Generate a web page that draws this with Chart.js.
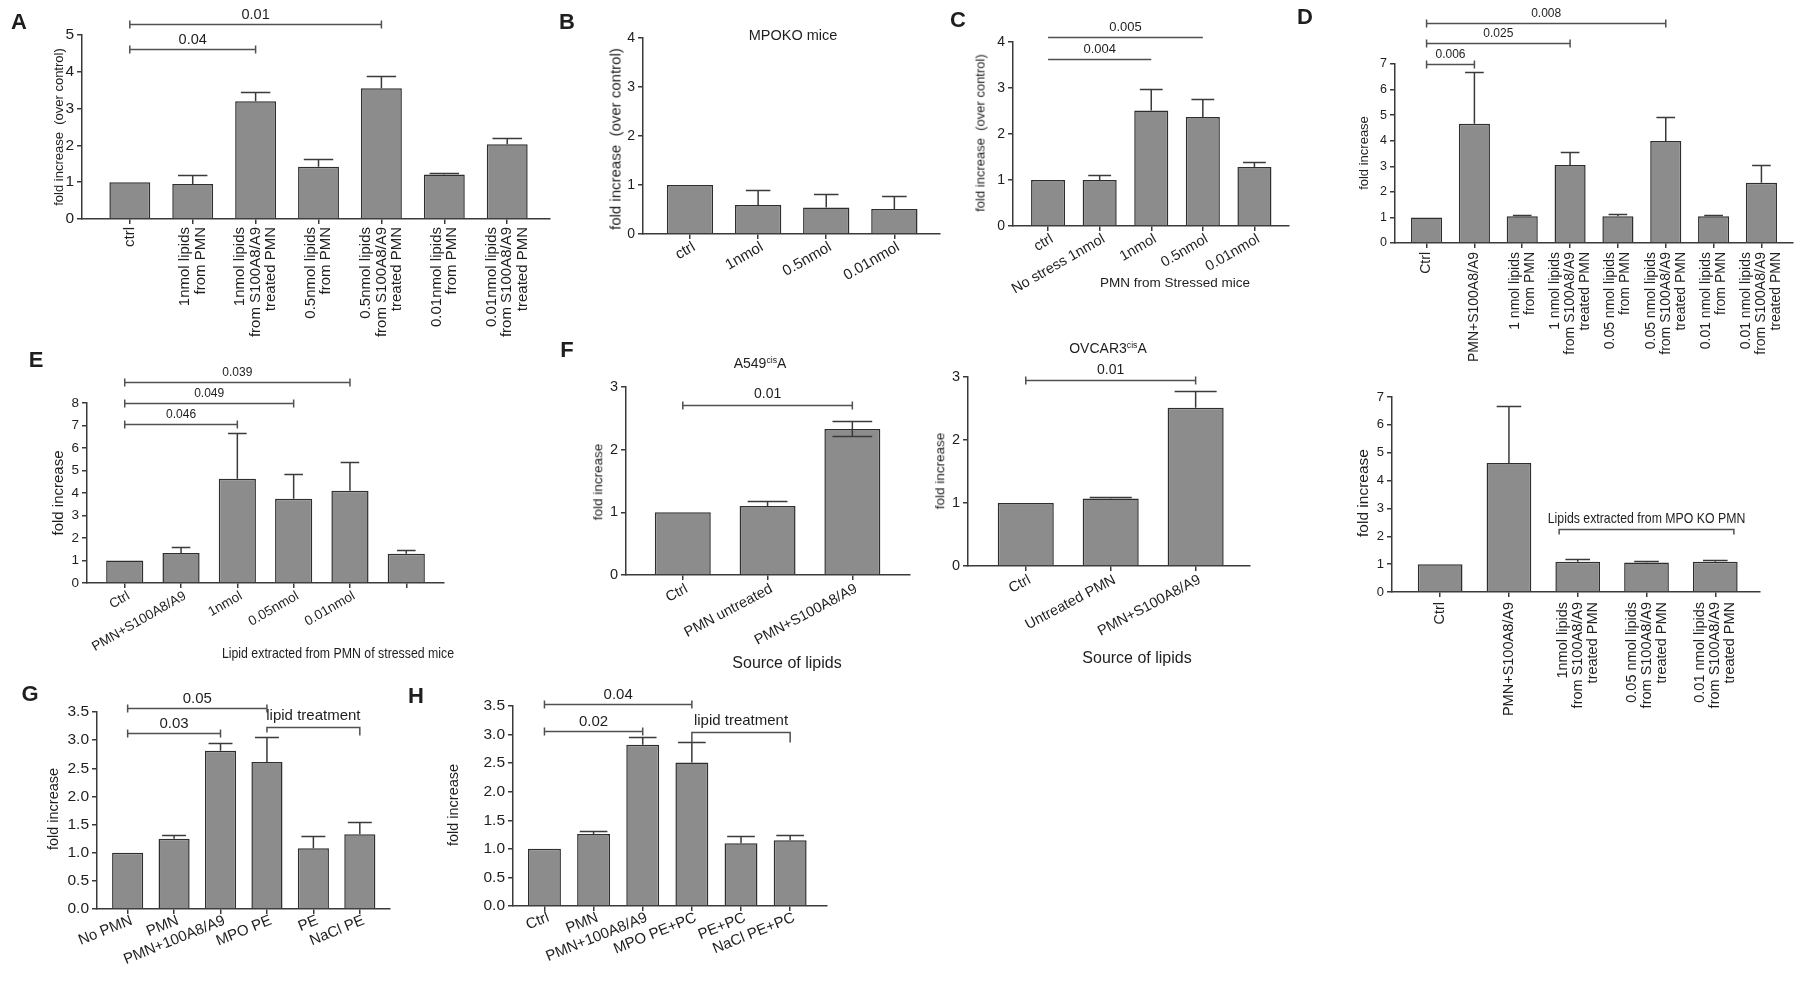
<!DOCTYPE html>
<html><head><meta charset="utf-8">
<script src="https://cdn.jsdelivr.net/npm/chart.js@4.4.1/dist/chart.umd.min.js"></script>
<style>
html,body{margin:0;padding:0;background:#fff;}
#page{position:relative;width:1800px;height:986px;overflow:hidden;background:#fff;font-family:"Liberation Sans",Arial,Helvetica,sans-serif;color:#1e1e1e;}
#page canvas{position:absolute;left:0;top:0;}
.t{position:absolute;white-space:pre;line-height:1;}
.t sup{font-size:0.62em;vertical-align:0.55em;line-height:0;}
</style></head><body><div id="page"></div>
<script>
// ---------------- DATA ----------------
// Panel A
const aCategories = [["ctrl"],["1nmol lipids","from PMN"],["1nmol lipids","from S100A8/A9","treated PMN"],["0.5nmol lipids","from PMN"],["0.5nmol lipids","from S100A8/A9","treated PMN"],["0.01nmol lipids","from PMN"],["0.01nmol lipids","from S100A8/A9","treated PMN"]];
const aMeans = [1.0, 0.95, 3.2, 1.42, 3.55, 1.21, 2.03];
const aErrTop = [null, 1.19, 3.45, 1.62, 3.88, 1.24, 2.2];
const aYTicks = ["0","1","2","3","4","5"];
const aSigPairs = [[0,2],[0,4]];
const aSigLabels = ["0.04","0.01"];
// Panel B
const bCategories = ["ctrl","1nmol","0.5nmol","0.01nmol"];
const bMeans = [1.0, 0.59, 0.54, 0.51];
const bErrTop = [null, 0.9, 0.82, 0.78];
const bYTicks = ["0","1","2","3","4"];
// Panel C
const cCategories = ["ctrl","No stress 1nmol","1nmol","0.5nmol","0.01nmol"];
const cMeans = [1.0, 1.0, 2.51, 2.37, 1.28];
const cErrTop = [null, 1.1, 2.97, 2.77, 1.39];
const cYTicks = ["0","1","2","3","4"];
const cSigPairs = [[0,2],[0,3]];
const cSigLabels = ["0.004","0.005"];
// Panel D (top)
const dCategories = [["Ctrl"],["PMN+S100A8/A9"],["1 nmol lipids","from PMN"],["1 nmol lipids","from S100A8/A9","treated PMN"],["0.05 nmol lipids","from PMN"],["0.05 nmol lipids","from S100A8/A9","treated PMN"],["0.01 nmol lipids","from PMN"],["0.01 nmol lipids","from S100A8/A9","treated PMN"]];
const dMeans = [1.0, 4.66, 1.05, 3.05, 1.05, 3.99, 1.05, 2.36];
const dErrTop = [null, 6.69, 1.1, 3.55, 1.14, 4.91, 1.11, 3.04];
const dYTicks = ["0","1","2","3","4","5","6","7"];
const dSigPairs = [[0,1],[0,3],[0,5]];
const dSigLabels = ["0.006","0.025","0.008"];
// Panel D (bottom)
const d2Categories = [["Ctrl"],["PMN+S100A8/A9"],["1nmol lipids","from S100A8/A9","treated PMN"],["0.05 nmol lipids","from S100A8/A9","treated PMN"],["0.01 nmol lipids","from S100A8/A9","treated PMN"]];
const d2Means = [1.0, 4.63, 1.09, 1.06, 1.09];
const d2ErrTop = [null, 6.67, 1.2, 1.13, 1.15];
const d2YTicks = ["0","1","2","3","4","5","6","7"];
const d2GroupPair = [2,4];
const d2GroupLabel = "Lipids extracted from MPO KO PMN";
// Panel E
const eCategories = ["Ctrl","PMN+S100A8/A9","1nmol","0.05nmol","0.01nmol",""];
const eMeans = [1.0, 1.33, 4.63, 3.75, 4.1, 1.3];
const eErrTop = [null, 1.62, 6.67, 4.84, 5.4, 1.46];
const eYTicks = ["0","1","2","3","4","5","6","7","8"];
const eSigPairs = [[0,2],[0,3],[0,4]];
const eSigLabels = ["0.046","0.049","0.039"];
// Panel F (A549cisA)
const f1Categories = ["Ctrl","PMN untreated","PMN+S100A8/A9"];
const f1Means = [1.0, 1.1, 2.33];
const f1ErrTop = [null, 1.18, 2.45];
const f1ErrBottom = [null, null, 2.22];
const f1YTicks = ["0","1","2","3"];
const f1SigPairs = [[0,2]];
const f1SigLabels = ["0.01"];
// Panel F (OVCAR3cisA)
const f2Categories = ["Ctrl","Untreated PMN","PMN+S100A8/A9"];
const f2Means = [1.0, 1.07, 2.51];
const f2ErrTop = [null, 1.09, 2.77];
const f2YTicks = ["0","1","2","3"];
const f2SigPairs = [[0,2]];
const f2SigLabels = ["0.01"];
// Panel G
const gCategories = ["No PMN","PMN","PMN+100A8/A9","MPO PE","PE","NaCl PE"];
const gMeans = [1.0, 1.25, 2.81, 2.61, 1.08, 1.33];
const gErrTop = [null, 1.31, 2.95, 3.05, 1.29, 1.55];
const gYTicks = ["0.0","0.5","1.0","1.5","2.0","2.5","3.0","3.5"];
const gSigPairs = [[0,2],[0,3]];
const gSigLabels = ["0.03","0.05"];
const gGroupPair = [3,5];
const gGroupLabel = "lipid treatment";
// Panel H
const hCategories = ["Ctrl","PMN","PMN+100A8/A9","MPO PE+PC","PE+PC","NaCl PE+PC"];
const hMeans = [1.0, 1.26, 2.82, 2.51, 1.1, 1.15];
const hErrTop = [null, 1.31, 2.96, 2.87, 1.23, 1.25];
const hYTicks = ["0.0","0.5","1.0","1.5","2.0","2.5","3.0","3.5"];
const hSigPairs = [[0,2],[0,3]];
const hSigLabels = ["0.02","0.04"];
const hGroupPair = [3,5];
const hGroupLabel = "lipid treatment";

// ---------------- STYLE / LAYOUT ----------------
const W = 1800, H = 986;
const FONT = '"Liberation Sans", Arial, Helvetica, sans-serif';
const BAR_FILL = '#8c8c8c', BAR_EDGE = '#2e2e2e', AXIS = '#3a3a3a', TXT = '#1e1e1e', ERR = '#3a3a3a', BRK = '#505050';

const panels = [
 {categories:aCategories, means:aMeans, errTop:aErrTop, yTicks:aYTicks, sigPairs:aSigPairs, sigLabels:aSigLabels,
  L:{x0:82,x1:550,yTop:35,y0:219,a:0.76,b:0.68,barPct:0.65,cap:0.72,tickFont:15.5,labelFont:15,labelMode:'vertical',labelGap:8,lineH:15.5,
     sigY:[4.62,5.3],sigCap:4,sigFont:14.5,sigGap:10}},
 {categories:bCategories, means:bMeans, errTop:bErrTop, yTicks:bYTicks,
  L:{x0:643,x1:940,yTop:38,y0:234,a:0.69,b:0.67,barPct:0.68,cap:0.53,tickFont:14,labelFont:15,labelMode:'rot',rot:30,dx:4,dy:12}},
 {categories:cCategories, means:cMeans, errTop:cErrTop, yTicks:cYTicks, sigPairs:cSigPairs, sigLabels:cSigLabels,
  L:{x0:1013,x1:1289,yTop:42,y0:226,a:0.68,b:0.67,barPct:0.66,cap:0.67,tickFont:14,labelFont:14.5,labelMode:'rot',rot:30,dx:4,dy:12,
     sigY:[3.63,4.11],sigCap:0,sigFont:13,sigGap:10}},
 {categories:dCategories, means:dMeans, errTop:dErrTop, yTicks:dYTicks, sigPairs:dSigPairs, sigLabels:dSigLabels,
  L:{x0:1395,x1:1793,yTop:64,y0:243,a:0.66,b:0.66,barPct:0.65,cap:0.6,tickFont:12.5,labelFont:14,labelMode:'vertical',labelGap:9,lineH:15,
     sigY:[7.0,7.82,8.6],sigCap:4,sigFont:12,sigGap:10}},
 {categories:d2Categories, means:d2Means, errTop:d2ErrTop, yTicks:d2YTicks, groupPair:d2GroupPair, groupLabel:d2GroupLabel,
  L:{x0:1392,x1:1760,yTop:397,y0:592,a:0.70,b:0.65,barPct:0.65,cap:0.55,tickFont:13,labelFont:14.5,labelMode:'vertical',labelGap:10,lineH:15,
     groupY:2.26,groupLegs:[5,5],groupPad:0.27,groupFont:15,groupSqueeze:0.82,groupGap:11}},
 {categories:eCategories, means:eMeans, errTop:eErrTop, yTicks:eYTicks, sigPairs:eSigPairs, sigLabels:eSigLabels,
  L:{x0:87,x1:444,yTop:403,y0:583,a:0.67,b:0.67,barPct:0.66,cap:0.5,tickFont:13.5,labelFont:13.5,labelMode:'rot',rot:30,dx:4,dy:12,
     sigY:[7.08,8.0,8.94],sigCap:4,sigFont:12,sigGap:10}},
 {categories:f1Categories, means:f1Means, errTop:f1ErrTop, errBottom:f1ErrBottom, yTicks:f1YTicks, sigPairs:f1SigPairs, sigLabels:f1SigLabels,
  L:{x0:626,x1:910,yTop:387,y0:575,a:0.67,b:0.68,barPct:0.66,cap:0.71,tickFont:14.5,labelFont:14.5,labelMode:'rot',rot:28,dx:4,dy:13,
     sigY:[2.71],sigCap:4,sigFont:14,sigGap:11}},
 {categories:f2Categories, means:f2Means, errTop:f2ErrTop, yTicks:f2YTicks, sigPairs:f2SigPairs, sigLabels:f2SigLabels,
  L:{x0:968,x1:1250,yTop:377,y0:566,a:0.68,b:0.64,barPct:0.66,cap:0.75,tickFont:14.5,labelFont:14.5,labelMode:'rot',rot:28,dx:4,dy:13,
     sigY:[2.95],sigCap:4,sigFont:14,sigGap:10}},
 {categories:gCategories, means:gMeans, errTop:gErrTop, yTicks:gYTicks, sigPairs:gSigPairs, sigLabels:gSigLabels, groupPair:gGroupPair, groupLabel:gGroupLabel,
  L:{x0:97,x1:390,yTop:712,y0:909,a:0.66,b:0.65,barPct:0.67,cap:0.77,tickFont:15.5,labelFont:15,labelMode:'rot',rot:22,dx:4,dy:11,
     sigY:[3.13,3.57],sigCap:4,sigFont:15,sigGap:10,groupY:3.23,groupLegs:[5,8],groupPad:0,groupFont:15,groupSqueeze:1,groupGap:12}},
 {categories:hCategories, means:hMeans, errTop:hErrTop, yTicks:hYTicks, sigPairs:hSigPairs, sigLabels:hSigLabels, groupPair:hGroupPair, groupLabel:hGroupLabel,
  L:{x0:513,x1:827,yTop:706,y0:906,a:0.64,b:0.75,barPct:0.67,cap:0.84,tickFont:15.5,labelFont:15,labelMode:'rot',rot:22,dx:4,dy:11,
     sigY:[3.06,3.54],sigCap:4,sigFont:15,sigGap:10,groupY:3.05,groupLegs:[10,10],groupPad:0,groupFont:15,groupSqueeze:1,groupGap:12}}
];

// free texts: [html, x-center, y-center, font-size, bold, rotated, squeeze]
const texts = [
 ["A",19,22,22,true,false,1],["B",567,22,22,true,false,1],["C",958,20,22,true,false,1],["D",1305,17,22,true,false,1],
 ["E",36,360,22,true,false,1],["F",567,350,22,true,false,1],["G",30,694,22,true,false,1],["H",416,696,22,true,false,1],
 ["MPOKO mice",793,35,14.5,false,false,1],
 ["A549<sup>cis</sup>A",760,363,14,false,false,1],
 ["OVCAR3<sup>cis</sup>A",1108,348,14,false,false,1],
 ["fold increase  (over control)",58,127,13,false,true,1],
 ["fold increase  (over control)",615,139,15,false,true,1],
 ["fold increase  (over control)",980,133,13,false,true,1],
 ["fold increase",1363,153,13,false,true,1],
 ["fold increase",1363,493,15.5,false,true,1],
 ["fold increase",57,493,15,false,true,1],
 ["fold increase",598,482,13.5,false,true,1],
 ["fold increase",940,471,13.5,false,true,1],
 ["fold increase",53,809,14.5,false,true,1],
 ["fold increase",453,805,14.5,false,true,1],
 ["PMN from Stressed mice",1175,283,13.5,false,false,1],
 ["Lipid extracted from PMN of stressed mice",338,653,14.5,false,false,0.85],
 ["Source of lipids",787,663,16,false,false,1],
 ["Source of lipids",1137,658,16,false,false,1]
];

// ---------------- DRAWING ----------------
const page = document.getElementById('page');

function drawDecor(chart, p) {
  const ctx = chart.ctx, xs = chart.scales.x, ys = chart.scales.y, L = p.L;
  const meta = chart.getDatasetMeta(0);
  ctx.save();
  ctx.strokeStyle = ERR; ctx.lineWidth = 1.5; ctx.lineCap = 'butt';
  p.means.forEach((m, i) => {
    const bar = meta.data[i];
    const cx = bar.x, hw = bar.width * L.cap / 2;
    const ym = ys.getPixelForValue(m);
    [p.errTop ? p.errTop[i] : null, p.errBottom ? p.errBottom[i] : null].forEach(t => {
      if (t === null || t === undefined) return;
      const yv = Math.round(ys.getPixelForValue(t)) + 0.5;
      ctx.beginPath();
      ctx.moveTo(cx, ym); ctx.lineTo(cx, yv);
      ctx.moveTo(cx - hw, yv); ctx.lineTo(cx + hw, yv);
      ctx.stroke();
    });
  });
  ctx.fillStyle = TXT;
  ctx.font = L.labelFont + 'px ' + FONT;
  const y0 = ys.getPixelForValue(0);
  p.categories.forEach((lab, i) => {
    const lines = Array.isArray(lab) ? lab : [lab];
    const x = xs.getPixelForValue(i);
    ctx.save();
    if (L.labelMode === 'vertical') {
      ctx.translate(x, y0 + L.labelGap);
      ctx.rotate(-Math.PI / 2);
      ctx.textAlign = 'right'; ctx.textBaseline = 'middle';
      lines.forEach((ln, j) => ctx.fillText(ln, 0, (j - (lines.length - 1) / 2) * L.lineH));
    } else {
      ctx.translate(x + L.dx, y0 + L.dy);
      ctx.rotate(-L.rot * Math.PI / 180);
      ctx.textAlign = 'right'; ctx.textBaseline = 'middle';
      ctx.fillText(lines[0], 0, 0);
    }
    ctx.restore();
  });
  if (p.sigPairs) {
    ctx.strokeStyle = BRK; ctx.lineWidth = 1.5;
    p.sigPairs.forEach((pr, k) => {
      const xa = xs.getPixelForValue(pr[0]), xb = xs.getPixelForValue(pr[1]);
      const yy = Math.round(ys.getPixelForValue(L.sigY[k])) + 0.5;
      ctx.beginPath();
      ctx.moveTo(xa, yy); ctx.lineTo(xb, yy);
      if (L.sigCap > 0) {
        ctx.moveTo(xa, yy - L.sigCap); ctx.lineTo(xa, yy + L.sigCap);
        ctx.moveTo(xb, yy - L.sigCap); ctx.lineTo(xb, yy + L.sigCap);
      }
      ctx.stroke();
      ctx.font = L.sigFont + 'px ' + FONT;
      ctx.textAlign = 'center'; ctx.textBaseline = 'middle';
      ctx.fillText(p.sigLabels[k], (xa + xb) / 2, yy - L.sigGap);
    });
  }
  if (p.groupPair) {
    ctx.strokeStyle = BRK; ctx.lineWidth = 1.5;
    const xa = xs.getPixelForValue(p.groupPair[0] - L.groupPad), xb = xs.getPixelForValue(p.groupPair[1] + L.groupPad);
    const yy = Math.round(ys.getPixelForValue(L.groupY)) + 0.5;
    ctx.beginPath();
    ctx.moveTo(xa, yy + L.groupLegs[0]); ctx.lineTo(xa, yy); ctx.lineTo(xb, yy); ctx.lineTo(xb, yy + L.groupLegs[1]);
    ctx.stroke();
    ctx.save();
    ctx.translate((xa + xb) / 2, yy - L.groupGap);
    ctx.scale(L.groupSqueeze, 1);
    ctx.font = L.groupFont + 'px ' + FONT;
    ctx.textAlign = 'center'; ctx.textBaseline = 'middle';
    ctx.fillText(p.groupLabel, 0, 0);
    ctx.restore();
  }
  ctx.restore();
}

function makePanel(p, k) {
  const cv = document.createElement('canvas');
  cv.width = W; cv.height = H;
  cv.style.width = W + 'px'; cv.style.height = H + 'px';
  page.appendChild(cv);
  const L = p.L, n = p.categories.length;
  const yVals = p.yTicks.map(s => parseFloat(s));
  const adj = {l: 0, r: 0, t: 0, b: 0};
  const axisGrid = {display: true, drawOnChartArea: false, drawTicks: true, tickLength: 5, color: AXIS, lineWidth: 1.5, offset: false};
  const chart = new Chart(cv, {
    type: 'bar',
    data: {
      datasets: [{
        data: p.means.map((v, i) => ({x: i, y: v})),
        backgroundColor: BAR_FILL, borderColor: BAR_EDGE, borderWidth: 1.5, borderSkipped: 'start',
        barPercentage: L.barPct, categoryPercentage: 1
      }]
    },
    options: {
      responsive: false, animation: false, devicePixelRatio: 1, events: [],
      layout: {autoPadding: false, padding: {left: 0, top: L.yTop, right: W - L.x1, bottom: 0}},
      plugins: {legend: {display: false}, tooltip: {enabled: false}, title: {display: false}},
      scales: {
        x: {
          type: 'linear', offset: false, bounds: 'ticks', min: -L.a, max: n - 1 + L.b,
          afterBuildTicks: s => { s.ticks = p.categories.map((c, i) => ({value: i})); },
          afterFit: s => { s.height = H - L.y0 + adj.b; },
          ticks: {display: false},
          grid: axisGrid,
          border: {display: true, color: AXIS, width: 1.5}
        },
        y: {
          type: 'linear', offset: false, min: yVals[0], max: yVals[yVals.length - 1],
          afterBuildTicks: s => { s.ticks = yVals.map(v => ({value: v})); },
          afterFit: s => { s.width = L.x0 + adj.l; },
          ticks: {
            color: TXT, padding: 3, font: {family: FONT, size: L.tickFont},
            callback: (v, i) => p.yTicks[i]
          },
          grid: axisGrid,
          border: {display: true, color: AXIS, width: 1.5}
        }
      }
    },
    plugins: [{id: 'decor' + k, afterDatasetsDraw(c) { drawDecor(c, p); }}]
  });
  // self-correct the plot area so it lands exactly on the target frame
  for (let it = 0; it < 4; it++) {
    const ca = chart.chartArea;
    const el = L.x0 - ca.left, er = L.x1 - ca.right, et = L.yTop - ca.top, eb = L.y0 - ca.bottom;
    if (Math.abs(el) < 0.3 && Math.abs(er) < 0.3 && Math.abs(et) < 0.3 && Math.abs(eb) < 0.3) break;
    adj.l += el; adj.r -= er; adj.t += et; adj.b -= eb;
    chart.options.layout.padding = {left: 0, top: L.yTop + adj.t, right: W - L.x1 + adj.r, bottom: 0};
    chart.update('none');
  }
}

panels.forEach(makePanel);

texts.forEach(t => {
  const d = document.createElement('div');
  d.className = 't';
  d.innerHTML = t[0];
  d.style.left = t[1] + 'px';
  d.style.top = t[2] + 'px';
  d.style.fontSize = t[3] + 'px';
  if (t[4]) d.style.fontWeight = 'bold';
  let tr = 'translate(-50%,-50%)';
  if (t[5]) tr += ' rotate(-90deg)';
  if (t[6] !== 1) tr += ' scaleX(' + t[6] + ')';
  d.style.transform = tr;
  page.appendChild(d);
});
</script></body></html>
